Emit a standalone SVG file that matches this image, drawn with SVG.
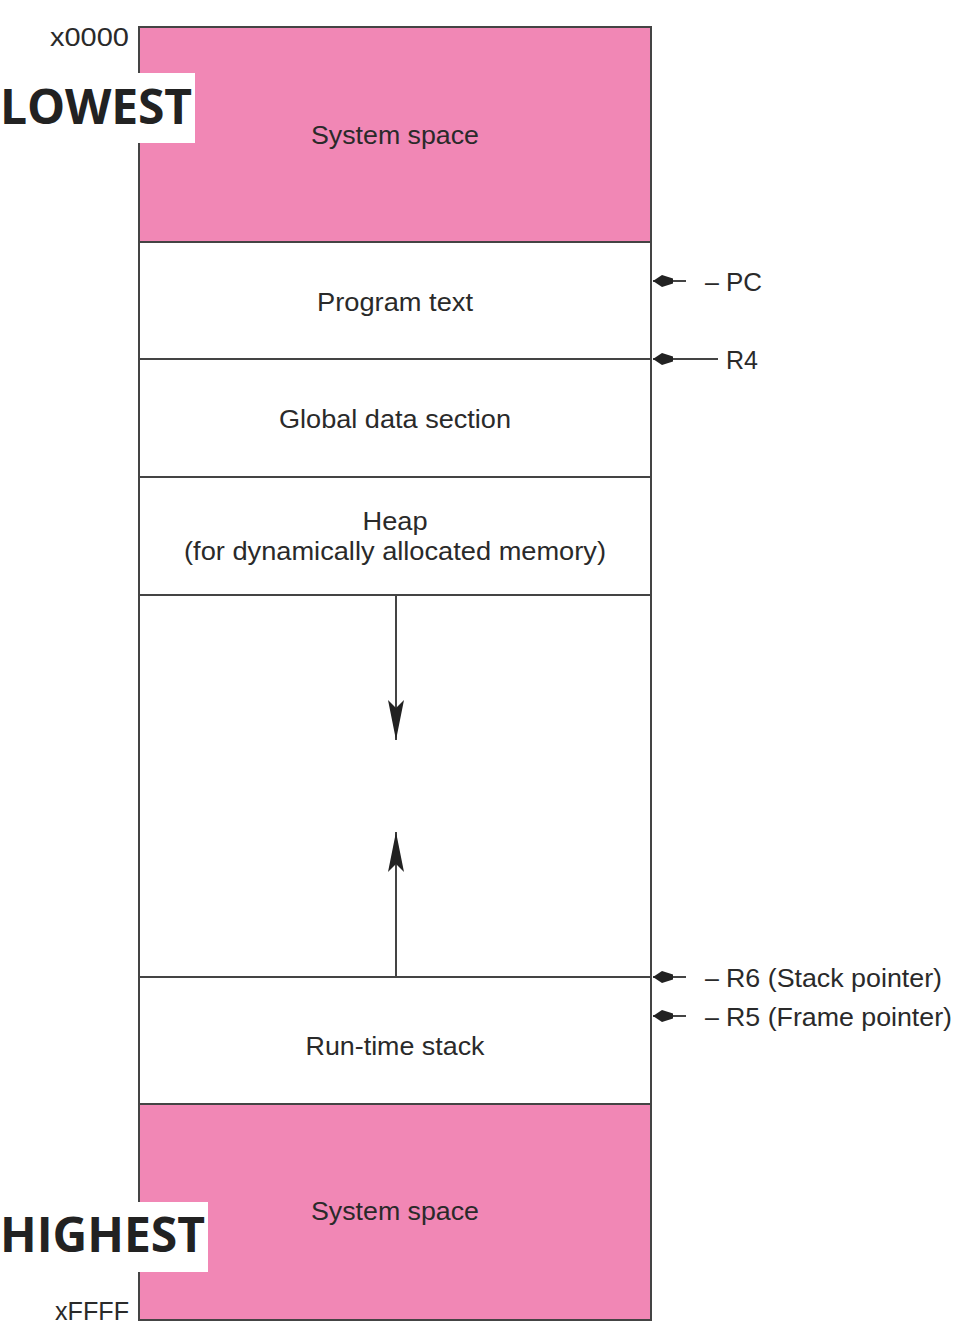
<svg xmlns="http://www.w3.org/2000/svg" width="956" height="1332" viewBox="0 0 956 1332">
<defs>
<style>
.t{font-family:"Liberation Sans",Arial,sans-serif;font-size:25px;fill:#2a2a2a;text-anchor:middle}
.r{font-family:"Liberation Sans",Arial,sans-serif;font-size:25px;fill:#2a2a2a}
.big{font-family:"Open Sans","Noto Sans",sans-serif;font-size:48px;font-weight:bold;fill:#222}
.ln{stroke:#444;stroke-width:2;fill:none}
.pink{fill:#F187B5}
</style>
<marker id="ha" viewBox="0 0 22 14" markerWidth="22" markerHeight="14" refX="21" refY="7" orient="auto" markerUnits="userSpaceOnUse">
<path d="M21,7 L12,1 L1,4.5 L1,9.5 L12,13 Z" fill="#222"/>
</marker>
<marker id="va" viewBox="0 0 40 16" markerWidth="40" markerHeight="16" refX="40" refY="8" orient="auto" markerUnits="userSpaceOnUse">
<path d="M40,8 L0,0 L8,8 L0,16 Z" fill="#222"/>
</marker>
</defs>
<rect width="956" height="1332" fill="#fff"/>
<g id="sys-top"><rect class="pink" x="139" y="27" width="512" height="215"/><text class="t" x="395" y="144" textLength="168" lengthAdjust="spacingAndGlyphs">System space</text></g>
<g id="program"><text class="t" x="395" y="311" textLength="156" lengthAdjust="spacingAndGlyphs">Program text</text></g>
<g id="global"><text class="t" x="395" y="428" textLength="232" lengthAdjust="spacingAndGlyphs">Global data section</text></g>
<g id="heap"><text class="t" x="395" y="530" textLength="65" lengthAdjust="spacingAndGlyphs">Heap</text><text class="t" x="395" y="560" textLength="422" lengthAdjust="spacingAndGlyphs">(for dynamically allocated memory)</text></g>
<g id="stack"><text class="t" x="395" y="1055" textLength="179" lengthAdjust="spacingAndGlyphs">Run-time stack</text></g>
<g id="sys-bot"><rect class="pink" x="139" y="1104" width="512" height="216"/><text class="t" x="395" y="1220" textLength="168" lengthAdjust="spacingAndGlyphs">System space</text></g>
<g id="outline">
<rect class="ln" x="139" y="27" width="512" height="1293"/>
<line class="ln" x1="139" y1="242" x2="651" y2="242"/>
<line class="ln" x1="139" y1="359" x2="651" y2="359"/>
<line class="ln" x1="139" y1="477" x2="651" y2="477"/>
<line class="ln" x1="139" y1="595" x2="651" y2="595"/>
<line class="ln" x1="139" y1="977" x2="651" y2="977"/>
<line class="ln" x1="139" y1="1104" x2="651" y2="1104"/>
</g>
<g id="addr-top"><text class="r" x="129" y="46" text-anchor="end" textLength="79" lengthAdjust="spacingAndGlyphs">x0000</text></g>
<g id="addr-bot"><text class="r" x="129" y="1320" text-anchor="end" textLength="74" lengthAdjust="spacingAndGlyphs">xFFFF</text></g>
<g id="lowest"><rect x="0" y="73" width="195" height="70" fill="#fff"/><text class="big" x="0" y="124" textLength="192">LOWEST</text></g>
<g id="highest"><rect x="0" y="1202" width="208" height="70" fill="#fff"/><text class="big" x="0" y="1252" textLength="205">HIGHEST</text></g>
<g id="connectors">
<line class="ln" x1="686" y1="281" x2="653" y2="281" marker-end="url(#ha)"/>
<line class="ln" x1="718" y1="359" x2="653" y2="359" marker-end="url(#ha)"/>
<line class="ln" x1="686" y1="977" x2="653" y2="977" marker-end="url(#ha)"/>
<line class="ln" x1="686" y1="1016" x2="653" y2="1016" marker-end="url(#ha)"/>
<line class="ln" x1="396" y1="595" x2="396" y2="740" marker-end="url(#va)"/>
<line class="ln" x1="396" y1="977" x2="396" y2="832" marker-end="url(#va)"/>
</g>
<g id="labels">
<text class="r" x="705" y="291">–</text>
<text class="r" x="726" y="291" textLength="36" lengthAdjust="spacingAndGlyphs">PC</text>
<text class="r" x="726" y="369" textLength="32" lengthAdjust="spacingAndGlyphs">R4</text>
<text class="r" x="705" y="987">–</text>
<text class="r" x="726" y="987" textLength="216" lengthAdjust="spacingAndGlyphs">R6 (Stack pointer)</text>
<text class="r" x="705" y="1026">–</text>
<text class="r" x="726" y="1026" textLength="226" lengthAdjust="spacingAndGlyphs">R5 (Frame pointer)</text>
</g>
</svg>
